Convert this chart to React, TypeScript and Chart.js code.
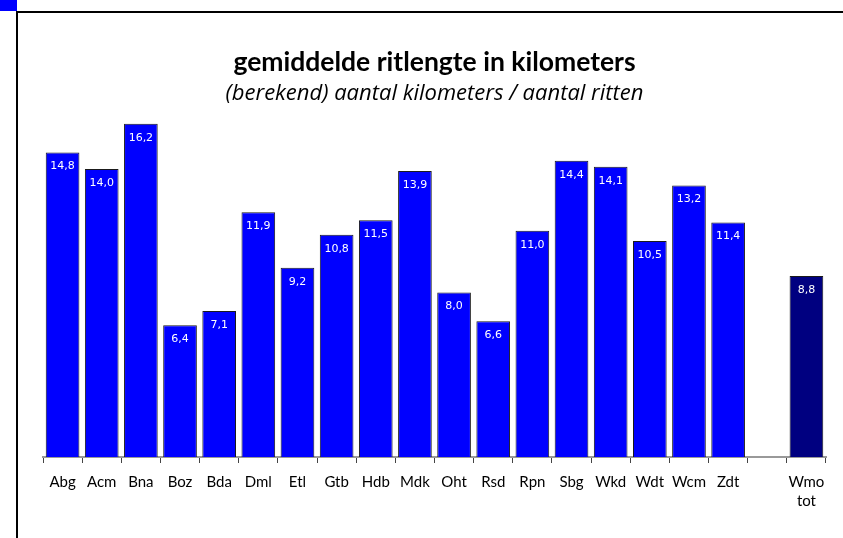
import React, { useEffect, useRef } from "react";
import { Chart, registerables } from "chart.js";

Chart.register(...registerables);

const categories: (string | string[])[] = [
  "Abg", "Acm", "Bna", "Boz", "Bda", "Dml", "Etl", "Gtb", "Hdb", "Mdk",
  "Oht", "Rsd", "Rpn", "Sbg", "Wkd", "Wdt", "Wcm", "Zdt", "", ["Wmo", "tot"],
];
const values: (number | null)[] = [
  14.8, 14.0, 16.2, 6.4, 7.1, 11.9, 9.2, 10.8, 11.5, 13.9,
  8.0, 6.6, 11.0, 14.4, 14.1, 10.5, 13.2, 11.4, null, 8.8,
];
const barColors: string[] = [
  "#0000FF", "#0000FF", "#0000FF", "#0000FF", "#0000FF", "#0000FF", "#0000FF",
  "#0000FF", "#0000FF", "#0000FF", "#0000FF", "#0000FF", "#0000FF", "#0000FF",
  "#0000FF", "#0000FF", "#0000FF", "#0000FF", "#0000FF", "#000080",
];
const titleText = "gemiddelde ritlengte in kilometers";
const subtitleText = "(berekend) aantal kilometers / aantal ritten";

const framePlugin = {
  id: "frame",
  beforeDraw(chart: any) {
    const ctx = chart.ctx;
    ctx.save();
    ctx.fillStyle = "#ffffff";
    ctx.fillRect(0, 0, chart.width, chart.height);
    ctx.fillStyle = "#0000FF";
    ctx.fillRect(0, 0, 17, 11);
    ctx.fillStyle = "#000000";
    ctx.fillRect(16, 11, chart.width - 16, 2);
    ctx.fillRect(16, 11, 2, chart.height - 11);
    ctx.restore();
  },
};

const valueLabelPlugin = {
  id: "valueLabels",
  afterDatasetsDraw(chart: any) {
    const ctx = chart.ctx;
    const meta = chart.getDatasetMeta(0);
    const data = chart.data.datasets[0].data;
    ctx.save();
    ctx.fillStyle = "#ffffff";
    ctx.font = "11px 'DejaVu Sans'";
    ctx.textAlign = "center";
    ctx.textBaseline = "middle";
    meta.data.forEach((bar: any, i: number) => {
      const v = data[i];
      if (v === null || v === undefined) return;
      ctx.fillText(v.toFixed(1).replace(".", ","), bar.x, bar.y + 14);
    });
    ctx.restore();
  },
};

export default function App() {
  const ref = useRef<HTMLCanvasElement>(null);
  useEffect(() => {
    if (!ref.current) return;
    const chart = new Chart(ref.current, {
      type: "bar",
      data: {
        labels: categories,
        datasets: [
          {
            data: values,
            backgroundColor: barColors,
            borderColor: "#1a1a1a",
            borderWidth: 1,
            barPercentage: 0.86,
            categoryPercentage: 1,
          },
        ],
      },
      options: {
        responsive: false,
        animation: false,
        layout: { padding: { left: 43, right: 17, top: 40, bottom: 18 } },
        plugins: {
          legend: { display: false },
          tooltip: { enabled: false },
          title: {
            display: true,
            text: titleText,
            color: "#000000",
            font: { family: "Lato", size: 26.5, weight: "bold", lineHeight: 1.2 },
            padding: { top: 7, bottom: 0 },
          },
          subtitle: {
            display: true,
            text: subtitleText,
            color: "#000000",
            font: { family: "'Open Sans'", size: 22, style: "italic", lineHeight: 1.2 },
            padding: { top: 2, bottom: 0 },
          },
        },
        scales: {
          x: {
            grid: {
              display: true,
              drawOnChartArea: false,
              drawTicks: true,
              tickLength: 6,
              color: "#444444",
              offset: true,
            },
            border: { display: true, color: "#999999", width: 2 },
            ticks: {
              color: "#000000",
              font: { family: "Lato", size: 15, lineHeight: 1.3 },
              padding: 9,
              maxRotation: 0,
              autoSkip: false,
            },
          },
          y: {
            display: false,
            min: 0,
            max: 17,
          },
        },
      },
      plugins: [framePlugin, valueLabelPlugin],
    });
    return () => chart.destroy();
  }, []);
  return (
    <div style={{ position: "absolute", left: 0, top: 0, width: 843, height: 538 }}>
      <canvas ref={ref} width={843} height={538} style={{ display: "block" }} />
    </div>
  );
}
